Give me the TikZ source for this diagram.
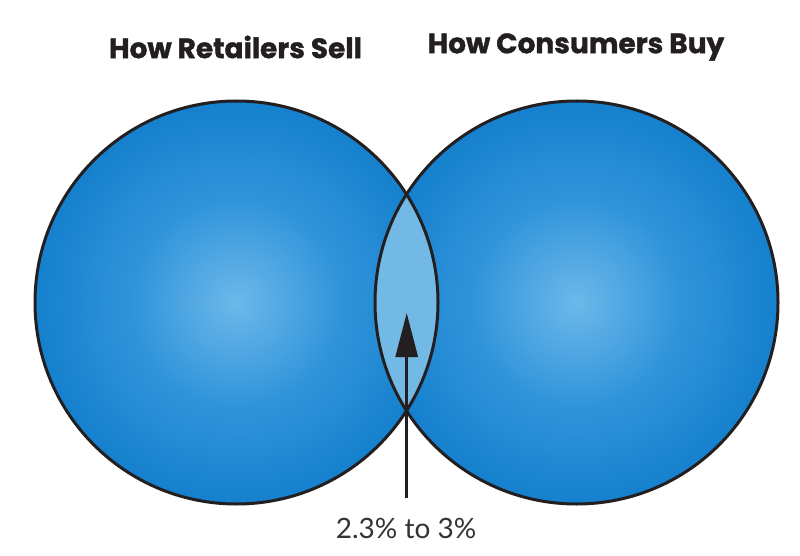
\documentclass[tikz,border=0pt]{standalone}
\usepackage{fontspec}
\usetikzlibrary{arrows.meta}
\newfontfamily\titlefont{Poppins}[BoldFeatures={FakeBold=1.3}]
\newfontfamily\labelfont{Lato}
\definecolor{cin}{HTML}{6CB8EA}
\definecolor{cmid}{HTML}{3094DA}
\definecolor{cout}{HTML}{0A78C8}
\definecolor{lensblue}{HTML}{73B9E6}
\definecolor{outline}{HTML}{231F20}
\definecolor{txtgray}{HTML}{333333}
\pgfdeclareradialshading{ballblue}{\pgfpoint{0bp}{0bp}}{color(0bp)=(cin); color(13bp)=(cmid); color(30bp)=(cout); color(50bp)=(cout)}
\tikzset{
  ball/.style={shading=ballblue},
  rim/.style={draw=outline, line width=3pt},
  title/.style={font=\titlefont\bfseries\fontsize{28}{32}\selectfont, text=outline, inner sep=0pt},
  pct/.style={font=\labelfont\fontsize{28}{32}\selectfont, text=txtgray, inner sep=0pt},
  pointer/.style={draw=outline, line width=3pt, -{Triangle[width=22pt,length=44pt]}}
}
\begin{document}
\begin{tikzpicture}[x=1pt,y=-1pt]
\useasboundingbox (0,0) rectangle (800,556);
\coordinate (cl) at (236.5,302.5);
\coordinate (cr) at (576.5,302.5);
\shade[ball] (cl) circle (201.5);
\shade[ball] (cr) circle (201.5);
\begin{scope}
  \clip (cl) circle (201.5);
  \fill[lensblue] (cr) circle (201.5);
\end{scope}
\draw[rim] (cl) circle (201.5);
\draw[rim] (cr) circle (201.5);
\node[title] (tl) at (235.5,47) {How Retailers Sell};
\node[title] (tr) at (576,47) {How Consumers Buy};
\node[pct] (lbl) at (406,528) {2.3\% to 3\%};
\coordinate (base) at (406.7,498);
\coordinate (tip) at (406.7,313);
\draw[pointer] (base) -- (tip);
\end{tikzpicture}
\end{document}
